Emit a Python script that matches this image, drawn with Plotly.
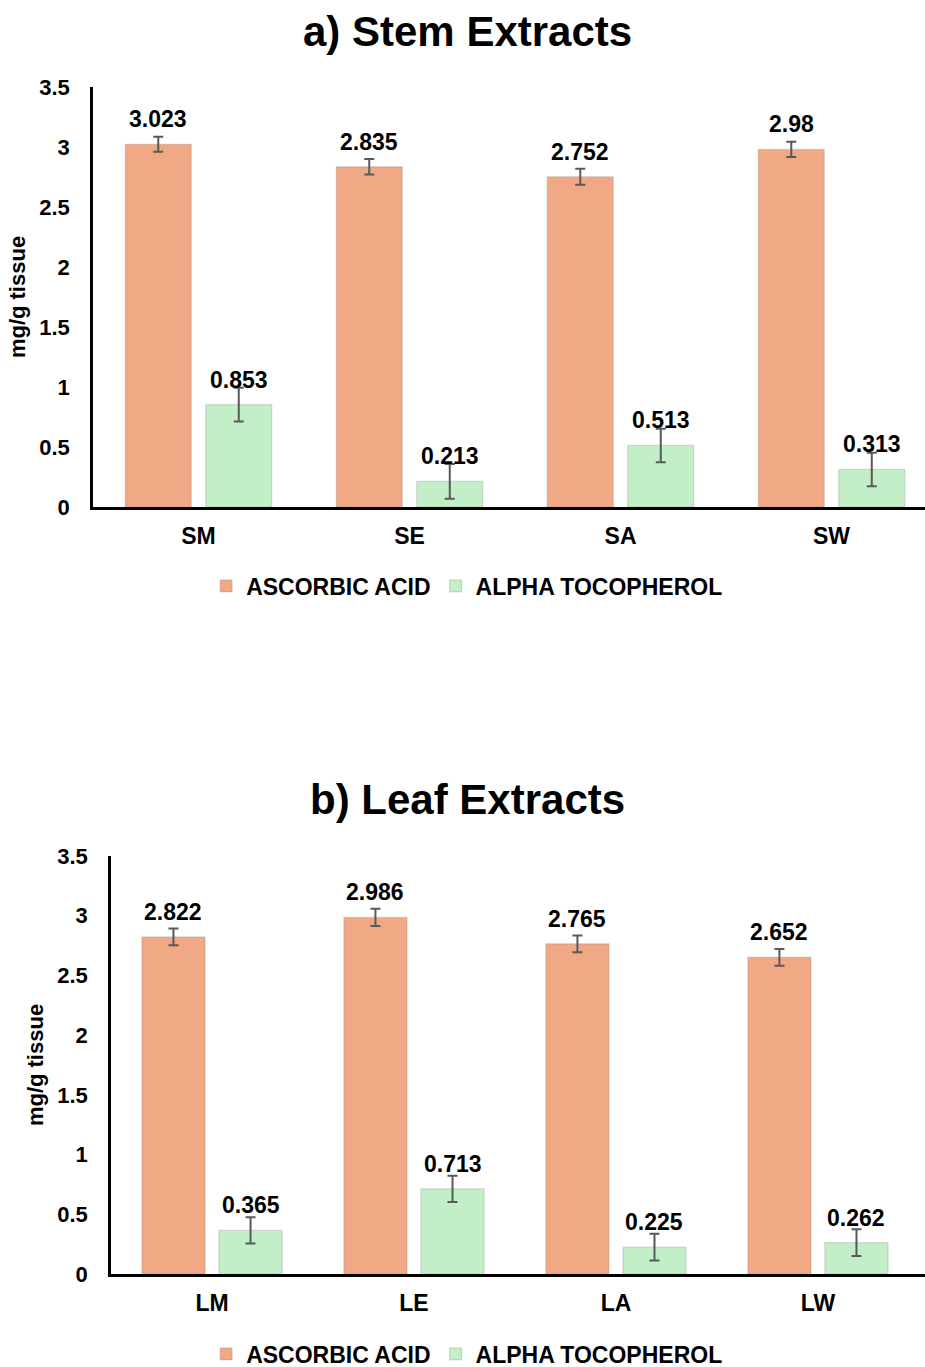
import plotly.graph_objects as go

# ---------------- data ----------------
series_names = ["ASCORBIC ACID", "ALPHA TOCOPHEROL"]

stem_categories = ["SM", "SE", "SA", "SW"]
stem_ascorbic = [3.023, 2.835, 2.752, 2.98]
stem_ascorbic_err = [0.063, 0.064, 0.067, 0.064]
stem_alpha = [0.853, 0.213, 0.513, 0.313]
stem_alpha_err = [0.14, 0.145, 0.14, 0.14]

leaf_categories = ["LM", "LE", "LA", "LW"]
leaf_ascorbic = [2.822, 2.986, 2.765, 2.652]
leaf_ascorbic_err = [0.07, 0.072, 0.07, 0.07]
leaf_alpha = [0.365, 0.713, 0.225, 0.262]
leaf_alpha_err = [0.11, 0.11, 0.112, 0.112]

titles = ["a) Stem Extracts", "b) Leaf Extracts"]
y_title = "mg/g tissue"
y_ticks = [0, 0.5, 1, 1.5, 2, 2.5, 3, 3.5]

# ---------------- style ----------------
W, H = 925, 1367
ORANGE = "#F0A984"
GREEN = "#C3EFC8"
ERR = "#595959"
FONT = "Liberation Sans, Arial, sans-serif"
BARGAP = 0.237
BARGROUPGAP = 0.18
OFF = (1 - BARGAP) / 4


def py(px):
    return 1 - px / H


panels = [
    dict(cats=stem_categories, asc=stem_ascorbic, asc_err=stem_ascorbic_err,
         alp=stem_alpha, alp_err=stem_alpha_err, ax="", legend="legend",
         xdom=[93 / W, 1], ydom=[py(507), py(87)], xmax=3.443,
         title_y=py(31), legend_y=py(586)),
    dict(cats=leaf_categories, asc=leaf_ascorbic, asc_err=leaf_ascorbic_err,
         alp=leaf_alpha, alp_err=leaf_alpha_err, ax="2", legend="legend2",
         xdom=[111 / W, 1], ydom=[py(1274), py(856)], xmax=3.53,
         title_y=py(800), legend_y=py(1354)),
]

fig = go.Figure()
annotations = []
layout = {}

for k, p in enumerate(panels):
    xa, ya = "x" + p["ax"], "y" + p["ax"]
    for vals, errs, color, name, sign in [
        (p["asc"], p["asc_err"], ORANGE, series_names[0], -1),
        (p["alp"], p["alp_err"], GREEN, series_names[1], 1),
    ]:
        fig.add_trace(go.Bar(
            x=p["cats"], y=vals, name=name,
            marker=dict(color=color, line=dict(color="rgba(140,140,140,0.3)", width=1.2)),
            error_y=dict(type="data", array=errs, color=ERR, thickness=2, width=5),
            xaxis=xa, yaxis=ya, legend=p["legend"], showlegend=True,
        ))
        for i, v in enumerate(vals):
            annotations.append(dict(
                x=i + sign * OFF, y=v, xref=xa, yref=ya, text=f"{v:g}",
                showarrow=False, yanchor="middle", yshift=25,
                font=dict(family=FONT, size=23, color="black", weight="bold"),
            ))
    annotations.append(dict(
        x=0.505, y=p["title_y"], xref="paper", yref="paper", text=titles[k],
        showarrow=False, xanchor="center", yanchor="middle",
        font=dict(family=FONT, size=42, color="black", weight="bold"),
    ))
    layout["xaxis" + p["ax"]] = dict(
        domain=p["xdom"], anchor=ya, range=[-0.5, p["xmax"]], automargin=False,
        showline=True, linecolor="black", linewidth=3, ticks="",
        showgrid=False, zeroline=False, ticklabelstandoff=6,
        tickfont=dict(family=FONT, size=23, color="black", weight="bold"),
    )
    layout["yaxis" + p["ax"]] = dict(
        domain=p["ydom"], anchor=xa, range=[0, 3.5], automargin=False,
        tickvals=y_ticks, ticktext=[f"{t:g}" for t in y_ticks],
        showline=True, linecolor="black", linewidth=2.5, ticks="",
        showgrid=False, zeroline=False, ticklabelstandoff=16,
        tickfont=dict(family=FONT, size=22, color="black", weight="bold"),
        title=dict(text=y_title, standoff=8,
                   font=dict(family=FONT, size=22, color="black", weight="bold")),
    )
    layout[p["legend"]] = dict(
        orientation="h", xref="container", yref="container",
        x=0.505, xanchor="center", y=p["legend_y"], yanchor="middle",
        font=dict(family=FONT, size=23, color="black", weight="bold"),
        itemwidth=30, bgcolor="rgba(0,0,0,0)", traceorder="normal",
    )

fig.update_layout(
    width=W, height=H, margin=dict(l=0, r=0, t=0, b=0, autoexpand=False),
    paper_bgcolor="white", plot_bgcolor="white",
    barmode="group", bargap=BARGAP, bargroupgap=BARGROUPGAP,
    annotations=annotations, showlegend=True,
    **layout,
)

fig.write_html("out.html")
